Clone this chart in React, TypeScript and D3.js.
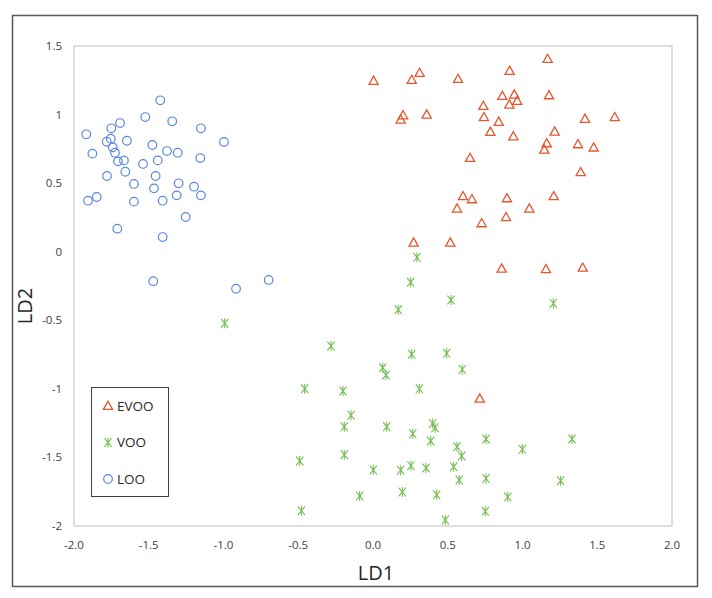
import React from "react";
import * as d3 from "d3";

const evooX = [0.004, 0.259, 0.312, 0.569, 0.914, 1.168, 0.865, 0.945, 0.965, 0.912, 1.177, 0.738, 0.201, 0.185, 0.359, 0.742, 0.841, 0.785, 0.939, 1.215, 1.162, 1.146, 1.418, 1.617, 1.371, 1.476, 0.649, 1.389, 0.602, 0.662, 0.562, 0.896, 1.209, 1.046, 0.89, 0.727, 0.272, 0.517, 0.861, 1.157, 1.403, 0.714];
const evooY = [1.245, 1.252, 1.303, 1.259, 1.318, 1.405, 1.135, 1.145, 1.099, 1.072, 1.14, 1.062, 0.994, 0.963, 0.999, 0.98, 0.946, 0.873, 0.841, 0.875, 0.79, 0.744, 0.968, 0.98, 0.783, 0.759, 0.683, 0.579, 0.404, 0.382, 0.314, 0.389, 0.404, 0.314, 0.251, 0.207, 0.066, 0.066, -0.124, -0.128, -0.117, -1.072];

const vooX = [0.294, 0.252, 0.169, -0.992, -0.281, 0.259, 0.065, 0.087, -0.457, -0.201, 0.31, -0.147, -0.192, 0.092, 0.266, -0.49, -0.192, 0.002, 0.185, 0.254, 0.196, -0.089, -0.479, 0.522, 1.206, 0.493, 0.597, 0.399, 0.415, 0.386, 0.562, 0.593, 0.756, 0.999, 1.331, 0.355, 0.54, 0.577, 0.756, 1.255, 0.426, 0.901, 0.751, 0.484];
const vooY = [-0.041, -0.223, -0.423, -0.522, -0.688, -0.748, -0.846, -0.899, -0.999, -1.016, -1.0, -1.193, -1.276, -1.276, -1.327, -1.526, -1.48, -1.592, -1.594, -1.56, -1.752, -1.781, -1.889, -0.352, -0.377, -0.741, -0.858, -1.252, -1.283, -1.38, -1.422, -1.49, -1.366, -1.441, -1.366, -1.577, -1.568, -1.665, -1.653, -1.67, -1.772, -1.789, -1.893, -1.956];

const looX = [-1.918, -1.877, -1.906, -1.848, -1.781, -1.754, -1.75, -1.692, -1.741, -1.726, -1.706, -1.666, -1.646, -1.657, -1.779, -1.71, -1.599, -1.599, -1.523, -1.538, -1.476, -1.44, -1.454, -1.465, -1.423, -1.378, -1.407, -1.407, -1.343, -1.306, -1.3, -1.313, -1.253, -1.197, -1.151, -1.155, -1.151, -0.997, -0.916, -0.698, -1.47];
const looY = [0.856, 0.715, 0.372, 0.399, 0.802, 0.824, 0.9, 0.938, 0.761, 0.722, 0.659, 0.666, 0.809, 0.583, 0.552, 0.168, 0.494, 0.365, 0.982, 0.64, 0.778, 0.666, 0.552, 0.462, 1.104, 0.734, 0.372, 0.107, 0.951, 0.722, 0.499, 0.411, 0.253, 0.474, 0.9, 0.683, 0.411, 0.8, -0.27, -0.206, -0.215];

const xTicks = [-2.0, -1.5, -1.0, -0.5, 0.0, 0.5, 1.0, 1.5, 2.0];
const yTicks = [1.5, 1, 0.5, 0, -0.5, -1, -1.5, -2];
const seriesNames = ["EVOO", "VOO", "LOO"];

const C_TRI = "#E4572E";
const C_STAR = "#72BE50";
const C_CIRC = "#5B86DE";
const FONT = "'Open Sans', 'Noto Sans', sans-serif";

const left = 74, right = 672, top = 46, bottom = 526;
const x = d3.scaleLinear().domain([-2, 2]).range([left, right]);
const y = d3.scaleLinear().domain([-2, 1.5]).range([bottom, top]);

const triPath = "M0,-4.8L4.6,3.4L-4.6,3.4Z";
const starPath = "M0,-5L0,5M-3.6,-4.4L3.6,4.4M-3.6,4.4L3.6,-4.4";

function Tri({ cx, cy }: { cx: number; cy: number }) {
  return <path d={triPath} transform={`translate(${cx},${cy})`} fill="none" stroke={C_TRI} strokeWidth={1.3} />;
}
function Star({ cx, cy }: { cx: number; cy: number }) {
  return <path d={starPath} transform={`translate(${cx},${cy})`} fill="none" stroke={C_STAR} strokeWidth={1.1} />;
}
function Circ({ cx, cy }: { cx: number; cy: number }) {
  return <circle cx={cx} cy={cy} r={4.3} fill="none" stroke={C_CIRC} strokeWidth={1.2} />;
}

export default function App() {
  const fmtX = (v: number) => (v < 0 ? "-" : "") + Math.abs(v).toFixed(1);
  const fmtY = (v: number) => String(v);
  return (
    <svg width={712} height={598} style={{ position: "absolute", left: 0, top: 0, background: "#fff" }}>
      <rect x={12.5} y={15.5} width={685} height={571} fill="#fff" stroke="#595959" strokeWidth={1.5} />
      <rect x={left} y={top} width={right - left} height={bottom - top} fill="none" stroke="#BFBFBF" strokeWidth={1} />
      {yTicks.map((t) => (
        <text key={"y" + t} x={62} y={y(t)} dy="0.35em" textAnchor="end" fontFamily={FONT} fontSize={11.5} fill="#404040">
          {fmtY(t)}
        </text>
      ))}
      {xTicks.map((t) => (
        <text key={"x" + t} x={x(t)} y={549} textAnchor="middle" fontFamily={FONT} fontSize={11.5} fill="#404040">
          {fmtX(t)}
        </text>
      ))}
      <text x={376} y={580} textAnchor="middle" fontFamily={FONT} fontSize={20} fill="#262626">LD1</text>
      <text transform="translate(32,306) rotate(-90)" textAnchor="middle" fontFamily={FONT} fontSize={20} fill="#262626">LD2</text>
      {looX.map((v, i) => <Circ key={"c" + i} cx={x(v)} cy={y(looY[i])} />)}
      {vooX.map((v, i) => <Star key={"s" + i} cx={x(v)} cy={y(vooY[i])} />)}
      {evooX.map((v, i) => <Tri key={"t" + i} cx={x(v)} cy={y(evooY[i])} />)}
      <rect x={91.5} y={387.5} width={77} height={109} fill="#fff" stroke="#404040" strokeWidth={1} />
      {seriesNames.map((n, i) => {
        const cy = 406 + i * 36.5;
        return (
          <g key={n}>
            {i === 0 && <Tri cx={108} cy={cy} />}
            {i === 1 && <Star cx={108} cy={cy} />}
            {i === 2 && <Circ cx={108} cy={cy} />}
            <text x={117} y={cy} dy="0.36em" fontFamily={FONT} fontSize={13.5} fill="#262626">{n}</text>
          </g>
        );
      })}
    </svg>
  );
}
